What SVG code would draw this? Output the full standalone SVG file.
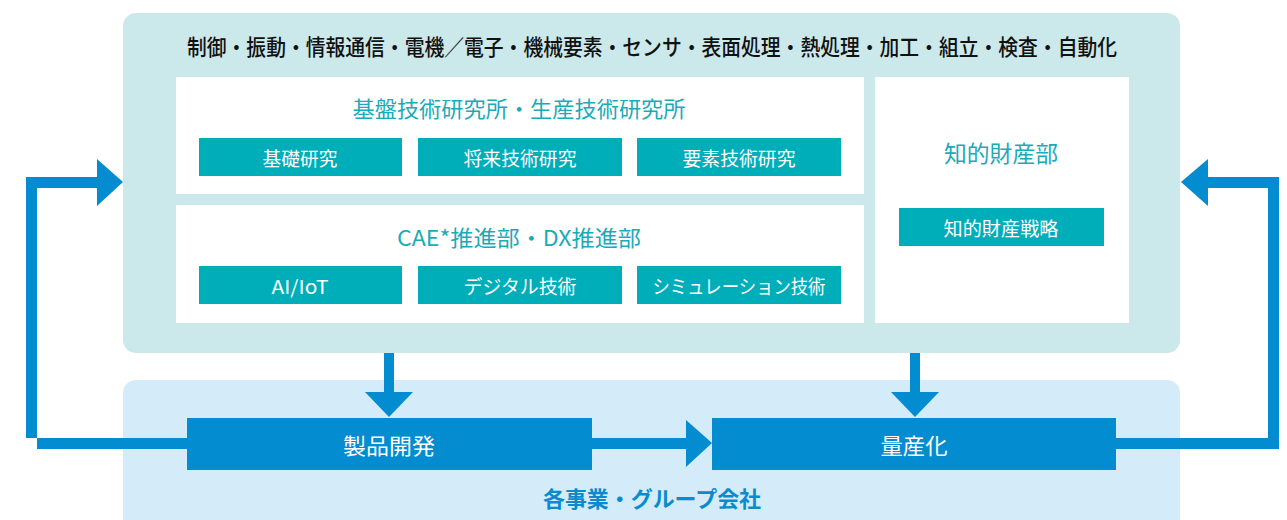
<svg xmlns="http://www.w3.org/2000/svg" width="1287" height="520" viewBox="0 0 1287 520">
<style>
text{font-family:"Noto Sans CJK JP","Noto Sans",sans-serif;text-anchor:middle;dominant-baseline:central}
.head{font-size:22px;fill:#111;font-weight:500}
.title{font-size:22px;fill:#1aabb8}
.tbox{fill:#00aeba}
.tlabel{font-size:19px;fill:#fff}
.blue{fill:#038ccf}
.blabel{font-size:22px;fill:#fff}
.panel{fill:#fff}
</style>
<g id="research-group">
<rect x="123" y="13" width="1057" height="340" rx="13" fill="#cbe8eb"/>
<text class="head" x="652" y="45" textLength="930" lengthAdjust="spacingAndGlyphs">制御・振動・情報通信・電機／電子・機械要素・センサ・表面処理・熱処理・加工・組立・検査・自動化</text>
</g>
<g id="business-group">
<rect x="123" y="380" width="1057" height="160" rx="13" fill="#d4ecf9"/>
<text x="652" y="497" style="font-size:22px;fill:#0b8bcd;font-weight:bold" textLength="218" lengthAdjust="spacingAndGlyphs">各事業・グループ会社</text>
</g>
<g id="lab">
<rect class="panel" x="176" y="77" width="688" height="117"/>
<text class="title" x="519" y="107" textLength="333" lengthAdjust="spacingAndGlyphs">基盤技術研究所・生産技術研究所</text>
</g>
<g id="kiso"><rect class="tbox" x="199" y="138" width="203" height="38"/><text class="tlabel" x="300" y="157" textLength="75" lengthAdjust="spacingAndGlyphs">基礎研究</text></g>
<g id="shorai"><rect class="tbox" x="418" y="138" width="204" height="38"/><text class="tlabel" x="520" y="157" textLength="113" lengthAdjust="spacingAndGlyphs">将来技術研究</text></g>
<g id="yoso"><rect class="tbox" x="637" y="138" width="204" height="38"/><text class="tlabel" x="739" y="157" textLength="113" lengthAdjust="spacingAndGlyphs">要素技術研究</text></g>
<g id="cae">
<rect class="panel" x="176" y="205" width="688" height="118"/>
<text class="title" x="519" y="236" textLength="244" lengthAdjust="spacingAndGlyphs">CAE*推進部・DX推進部</text>
</g>
<g id="aiiot"><rect class="tbox" x="199" y="266" width="203" height="38"/><text class="tlabel" x="300" y="285" textLength="57" lengthAdjust="spacingAndGlyphs">AI/IoT</text></g>
<g id="digital"><rect class="tbox" x="418" y="266" width="204" height="38"/><text class="tlabel" x="520" y="285" textLength="113" lengthAdjust="spacingAndGlyphs">デジタル技術</text></g>
<g id="simulation"><rect class="tbox" x="637" y="266" width="204" height="38"/><text class="tlabel" x="739" y="285" textLength="173" lengthAdjust="spacingAndGlyphs">シミュレーション技術</text></g>
<g id="ip">
<rect class="panel" x="875" y="77" width="254" height="246"/>
<text class="title" x="1001" y="152" style="font-size:23px" textLength="114" lengthAdjust="spacingAndGlyphs">知的財産部</text>
</g>
<g id="ip-strategy"><rect class="tbox" x="899" y="208" width="205" height="38"/><text class="tlabel" x="1001" y="227" textLength="115" lengthAdjust="spacingAndGlyphs">知的財産戦略</text></g>
<g id="connectors" fill="#038ccf">
<rect x="384" y="353" width="10" height="40"/>
<polygon points="365,392 413,392 389,417"/>
<rect x="910" y="353" width="10" height="40"/>
<polygon points="891,392 939,392 915,417"/>
<rect x="590" y="438" width="97" height="11"/>
<polygon points="686,420 686,467 712,443"/>
<polygon points="187,438 26,438 26,177 98,177 98,188 37,188 37,449 187,449"/>
<polygon points="97,159 97,206 123,182"/>
<polygon points="1116,438 1268,438 1268,188 1207,188 1207,177 1279,177 1279,449 1116,449"/>
<polygon points="1208,159 1208,206 1181,182"/>
</g>
<g id="product-dev"><rect class="blue" x="187" y="418" width="405" height="52"/><text class="blabel" x="389" y="444" textLength="92" lengthAdjust="spacingAndGlyphs">製品開発</text></g>
<g id="mass-production"><rect class="blue" x="712" y="418" width="404" height="52"/><text class="blabel" x="914" y="444" textLength="67" lengthAdjust="spacingAndGlyphs">量産化</text></g>
</svg>
